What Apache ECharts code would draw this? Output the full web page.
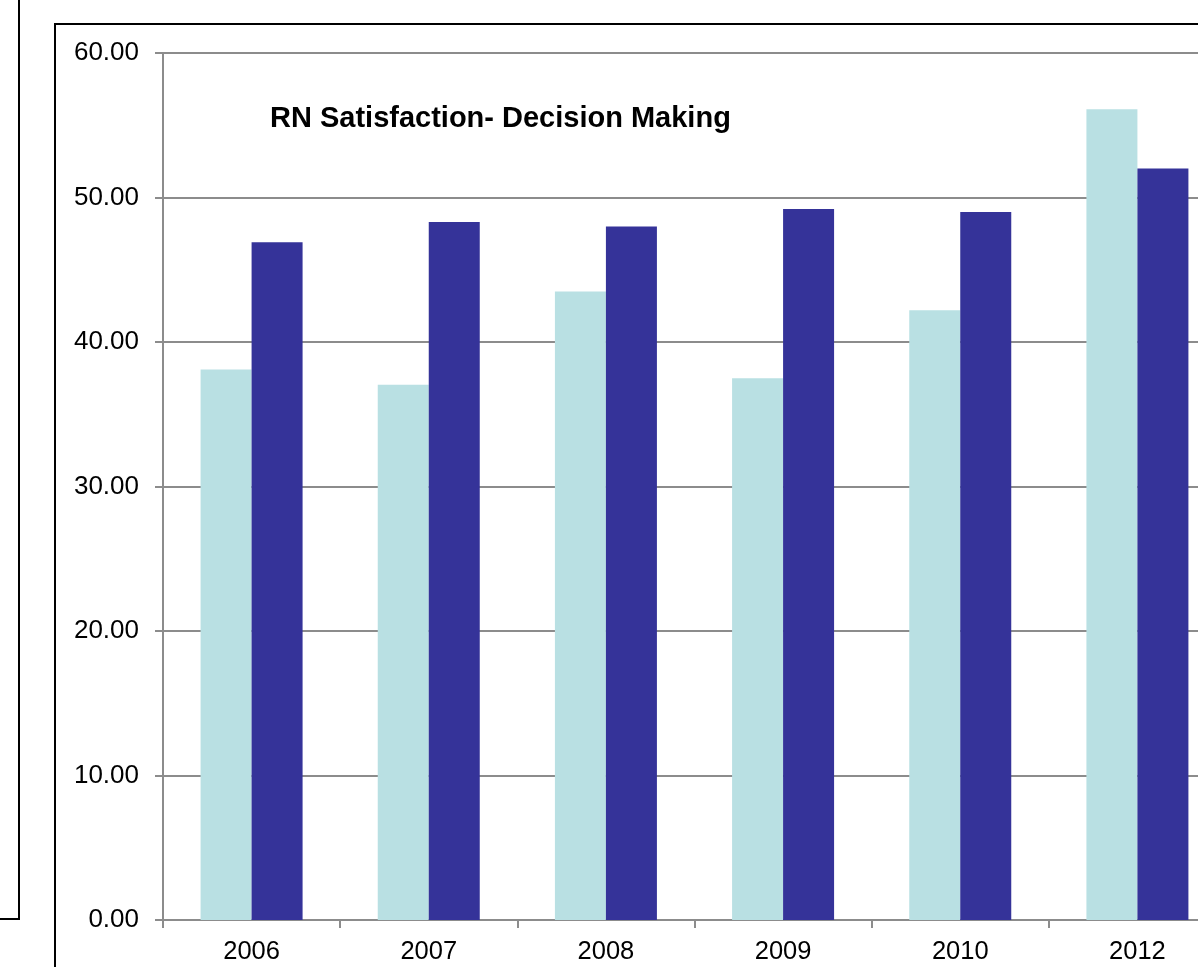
<!DOCTYPE html>
<html><head><meta charset="utf-8">
<script src="https://cdn.jsdelivr.net/npm/echarts@6/dist/echarts.min.js"></script>
<style>html,body{margin:0;padding:0;background:#fff;overflow:hidden}#c{width:1226px;height:967px}</style>
</head><body><div id="c"></div>
<script>
const categories = ['2006','2007','2008','2009','2010','2012'];
const seriesLight = [38.1, 37.05, 43.5, 37.5, 42.2, 56.1];
const seriesDark = [46.9, 48.3, 48.0, 49.2, 49.0, 52.0];
const yTicks = {min: 0, max: 60, interval: 10};
const titleText = 'RN Satisfaction- Decision Making';

const chart = echarts.init(document.getElementById('c'));
const font = 'Liberation Sans, Arial, sans-serif';
chart.setOption({
  animation: false,
  backgroundColor: '#fff',
  title: {
    text: titleText, left: 265, top: 99,
    textStyle: {fontFamily: font, fontSize: 29, fontWeight: 'bold', color: '#000'}
  },
  grid: {left: 163, top: 53, right: 0, bottom: 47, containLabel: false},
  xAxis: {
    type: 'category', data: categories,
    axisLine: {lineStyle: {color: '#8c8c8c', width: 2}},
    axisTick: {show: true, length: 8, lineStyle: {color: '#8c8c8c', width: 2}},
    axisLabel: {fontFamily: font, fontSize: 25.5, color: '#000', margin: 19}
  },
  yAxis: {
    type: 'value', min: yTicks.min, max: yTicks.max, interval: yTicks.interval,
    axisLine: {show: true, lineStyle: {color: '#8c8c8c', width: 2}},
    axisTick: {show: true, length: 8, lineStyle: {color: '#8c8c8c', width: 2}},
    splitLine: {show: true, lineStyle: {color: '#8c8c8c', width: 2}},
    axisLabel: {fontFamily: font, fontSize: 26, color: '#000', margin: 24,
      formatter: v => v.toFixed(2)}
  },
  series: [
    {type: 'bar', data: seriesLight, barWidth: 51, barGap: '0%',
     itemStyle: {color: '#b9e0e3'}},
    {type: 'bar', data: seriesDark, barWidth: 51, barGap: '0%',
     itemStyle: {color: '#353399'}}
  ],
  graphic: [
    {type: 'polyline', shape: {points: [[19,0],[19,919],[0,919]]},
     style: {stroke: '#000', lineWidth: 2, fill: null}, z: 100},
    {type: 'rect', shape: {x: 55, y: 24, width: 1300, height: 1100},
     style: {stroke: '#000', lineWidth: 2, fill: null}, z: 100}
  ]
});
</script></body></html>
